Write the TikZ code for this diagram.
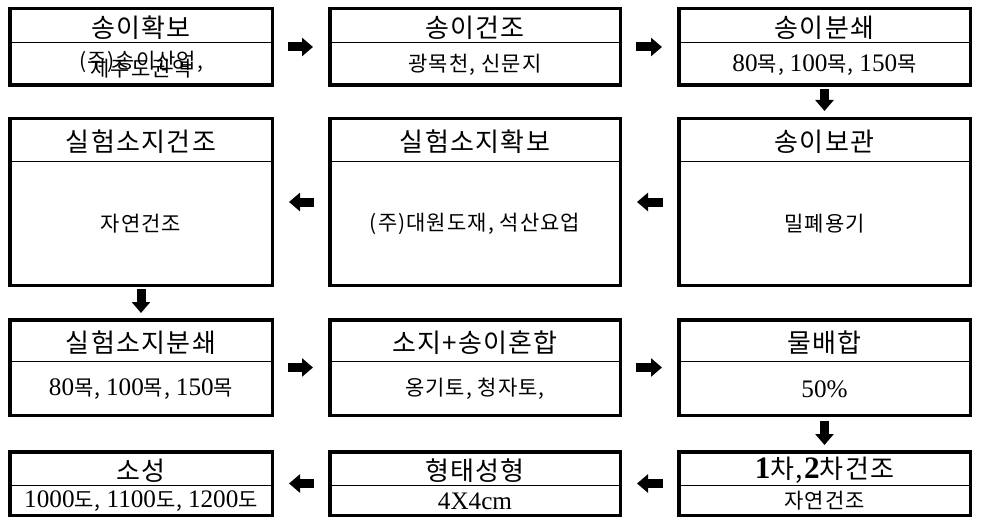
\documentclass[tikz,border=0pt]{standalone}
\usepackage{fontspec}
\setmainfont{Liberation Serif}[Scale=1.2]
\newfontfamily\kr{Noto Sans CJK KR}[LetterSpace=5]
\usetikzlibrary{arrows.meta}
\newcommand\lat[1]{{\rmfamily #1}}
\begin{document}
\begin{tikzpicture}[x=1pt, y=-1pt,
  box/.style={draw, line width=3.5pt, rectangle, inner sep=0pt},
  head/.style={font={\kr\fontsize{26}{30}\selectfont}, inner sep=0pt, yshift=-3pt},
  body/.style={font={\kr\fontsize{21}{25}\selectfont}, inner sep=0pt, align=center},
  flow/.style={line width=9pt, -{Triangle[length=11pt, width=18pt]}}]
       \useasboundingbox (0,0) rectangle (982,524);

       \foreach \n/\cx/\top/\mid/\bot/\w/\hd/\bd in {
         a1/141/7/43/87/266/{송이확보}/{(주)송이산업,\\[-17pt]제주도권역},
         a2/475/7/43/87/294/{송이건조}/{광목천, 신문지},
         a3/824.5/7/43/87/295/{송이분쇄}/{\lat{80}목, \lat{100}목, \lat{150}목},
         b1/141/117/161/287/266/{실험소지건조}/{자연건조},
         b2/475/117/161/287/294/{실험소지확보}/{(주)대원도재, 석산요업},
         b3/824.5/117/161/287/295/{송이보관}/{밀폐용기},
         c1/141/318/361/417/266/{실험소지분쇄}/{\lat{80}목, \lat{100}목, \lat{150}목},
         c2/475/318/361/417/294/{소지+송이혼합}/{옹기토, 청자토,},
         c3/824.5/318/361/417/295/{물배합}/{\lat{50\%}},
         d1/141/450/485/517/266/{소성}/{\lat{1000}도, \lat{1100}도, \lat{1200}도},
         d2/475/450/485/517/294/{형태성형}/{\lat{4X4cm}},
         d3/824.5/450/485/517/295/{\lat{\textbf{1}}차,\lat{\textbf{2}}차건조}/{자연건조}}{
         \node[box, minimum width={\w-3.5}, minimum height={\bot-\top-3.5}] (\n) at (\cx, {(\top+\bot)/2}) {};
         \draw[line width=1pt] (\n.west |- 0,\mid) -- (\n.east |- 0,\mid);
         \node[head] (\n-h) at (\cx, {(\top+\mid)/2}) {\hd};
         \node[body] (\n-b) at (\cx, {(\mid+\bot)/2}) {\bd};
       }

       \foreach \s/\t in {a1/a2, a2/a3, b2/b1, b3/b2, c1/c2, c2/c3, d3/d2, d2/d1}{\draw[flow, shorten <=14pt, shorten >=15pt] (\s) -- (\t); }
       \foreach \s/\t/\p/\q in {a3/b3/2/6, b1/c1/2/5, c3/d3/4/5}{\draw[flow, shorten <=\p pt, shorten >=\q pt] (\s) -- (\t); }
     \end{tikzpicture}
\end{document}
